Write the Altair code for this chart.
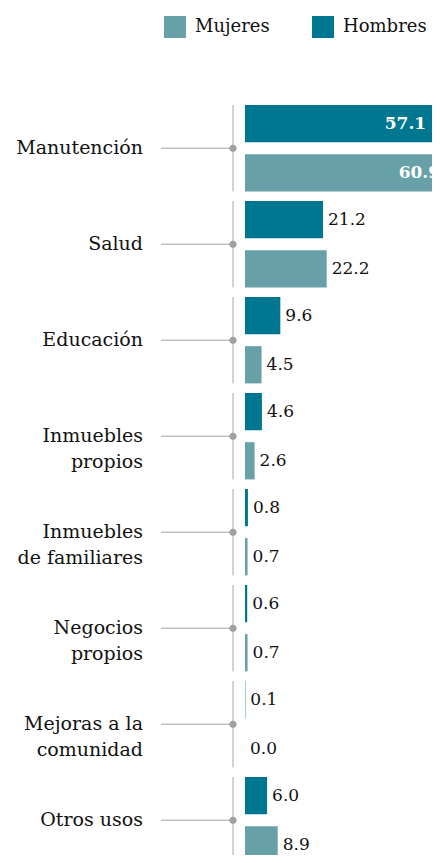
import altair as alt
import pandas as pd

categories = ["Manutención", "Salud", "Educación", "Inmuebles\npropios",
              "Inmuebles\nde familiares", "Negocios\npropios",
              "Mejoras a la\ncomunidad", "Otros usos"]
hombres = [57.1, 21.2, 9.6, 4.6, 0.8, 0.6, 0.1, 6.0]
mujeres = [60.9, 22.2, 4.5, 2.6, 0.7, 0.7, 0.0, 8.9]
series = ["Mujeres", "Hombres"]
colors = ["#68a0a8", "#007791"]

rows = []
for c, h, m in zip(categories, hombres, mujeres):
    rows.append({"cat": c, "sexo": "Hombres", "valor": h})
    rows.append({"cat": c, "sexo": "Mujeres", "valor": m})
df = pd.DataFrame(rows)
cats = pd.DataFrame({"cat": categories})

FONT = "DejaVu Serif"
W, H = 424, 847
x0 = 237
k = 3.68

xs = alt.Scale(domain=[0, 60], range=[x0, x0 + k * 60])
ys = alt.Scale(domain=categories, range=[92.2, 92.2 + 8 * 96.0], paddingInner=0.1, paddingOuter=0.05)
yo = alt.Scale(domain=["Hombres", "Mujeres"], paddingInner=0.242, paddingOuter=0)

Y = alt.Y("cat:N", scale=ys, axis=None, sort=categories)
YO = alt.YOffset("sexo:N", scale=yo, sort=["Hombres", "Mujeres"])

bars = alt.Chart(df).mark_bar(clip=True).encode(
    x=alt.X("valor:Q", scale=xs, axis=None),
    y=Y, yOffset=YO,
    color=alt.Color("sexo:N", scale=alt.Scale(domain=series, range=colors),
                    sort=series,
                    legend=alt.Legend(orient="none", legendX=156, legendY=8,
                                      direction="horizontal", title=None,
                                      symbolType="square", symbolSize=484,
                                      symbolStrokeWidth=0, symbolOpacity=1,
                                      labelFont=FONT, labelFontSize=18,
                                      labelColor="#111", labelOffset=9,
                                      columnPadding=42, padding=0)),
)

out_labels = alt.Chart(df).transform_filter("datum.valor < 40").mark_text(
    align="left", baseline="middle", dx=5, font=FONT, fontSize=17, color="#111"
).encode(
    x=alt.X("valor:Q", scale=xs, axis=None), y=Y, yOffset=YO,
    text=alt.Text("valor:Q", format=".1f"),
)

in_labels = alt.Chart(df).transform_filter("datum.valor >= 40").mark_text(
    align="right", baseline="middle", dx=-29, font=FONT, fontSize=17,
    fontWeight="bold", color="white", clip=True
).encode(
    x=alt.X("valor:Q", scale=xs, axis=None), y=Y, yOffset=YO,
    text=alt.Text("valor:Q", format=".1f"),
)

seg = alt.Chart(cats).mark_rect(color="#a8a8a8").encode(
    x=alt.value(224.5), x2=alt.value(225.5), y=Y,
)
conn = alt.Chart(cats).mark_rule(color="#a0a0a0", strokeWidth=1).encode(
    x=alt.value(153), x2=alt.value(225), y=Y,
)
dot = alt.Chart(cats).mark_circle(color="#a0a0a0", opacity=1, size=50).encode(
    x=alt.value(225), y=Y,
)
cat_text = alt.Chart(cats).mark_text(
    align="right", baseline="middle", lineBreak="\n", lineHeight=26,
    font=FONT, fontSize=19, color="#111"
).encode(
    x=alt.value(135), y=Y, text="cat:N",
)

chart = alt.layer(seg, conn, dot, cat_text, bars, out_labels, in_labels).properties(
    width=W, height=H, padding=0,
    autosize=alt.AutoSizeParams(type="none"),
).configure_view(stroke=None)

chart.save("out.html", embed_options={"renderer": "svg", "actions": False})
